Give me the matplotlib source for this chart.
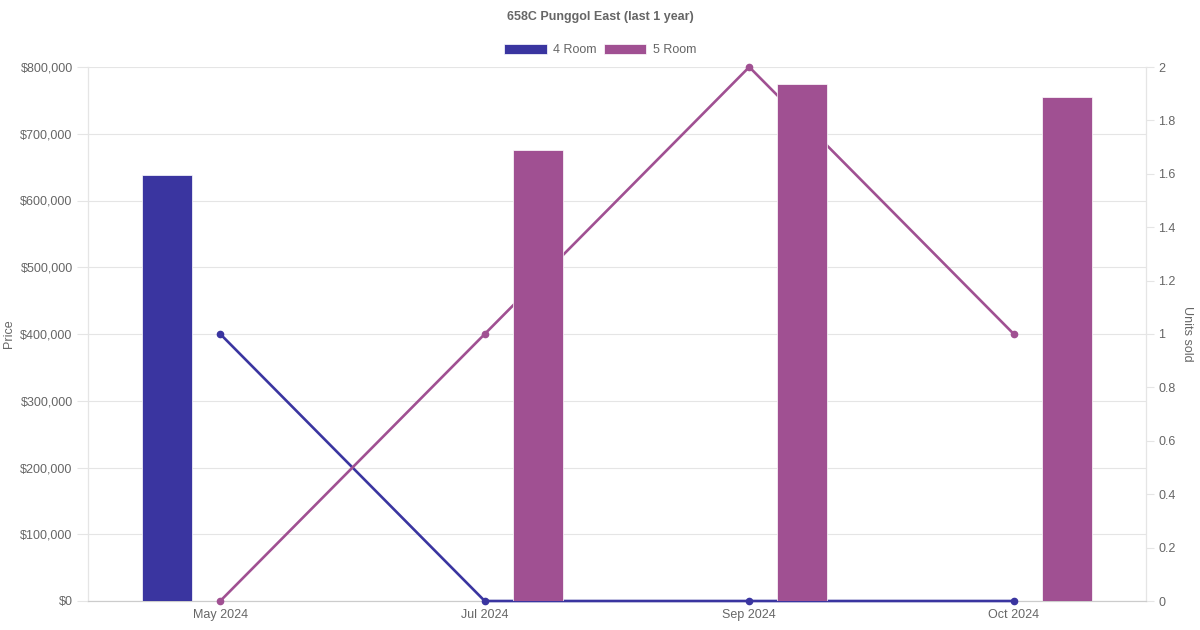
import numpy as np
import matplotlib
matplotlib.use("Agg")
import matplotlib.pyplot as plt
from matplotlib import transforms
from matplotlib.patches import Patch
from matplotlib.ticker import FuncFormatter, MultipleLocator

plt.rcParams['font.family'] = ['Liberation Sans', 'DejaVu Sans']

months = ['May 2024', 'Jul 2024', 'Sep 2024', 'Oct 2024']
price_4room = [638000, np.nan, np.nan, np.nan]
price_5room = [np.nan, 675000, 774000, 755000]
units_4room = [1, 0, 0, 0]
units_5room = [0, 1, 2, 1]

c4 = '#3a35a0'
c5 = '#a05092'
txt = '#666666'
grid_c = '#e5e5e5'

fig = plt.figure(figsize=(12, 6.3), dpi=100)
ax = fig.add_axes([88 / 1200, 29 / 630, (1146 - 88) / 1200, (601 - 67) / 630])
ax2 = ax.twinx()

x = np.arange(len(months))
p4 = np.array(price_4room, dtype=float)
p5 = np.array(price_5room, dtype=float)
m4 = ~np.isnan(p4)
m5 = ~np.isnan(p5)

ax.bar(x[m4] - 0.2, p4[m4], width=0.19, color=c4, edgecolor='white', linewidth=0.5, zorder=3)
ax.bar(x[m5] + 0.2, p5[m5], width=0.19, color=c5, edgecolor='white', linewidth=0.5, zorder=3)

ax.set_xlim(-0.5, len(months) - 0.5)
ax2.set_xlim(-0.5, len(months) - 0.5)
ax.set_ylim(0, 800000)
ax2.set_ylim(0, 2)

# lines use the right-hand scale but sit in the left axes so the bars cover them
tr = transforms.blended_transform_factory(ax.transData, ax2.transData)
for vals, col in [(units_4room, c4), (units_5room, c5)]:
    ax.plot(x, vals, color=col, lw=1.9, marker='o', ms=4.5, transform=tr,
            clip_on=False, zorder=2.7)

ax.yaxis.set_major_locator(MultipleLocator(100000))
ax.yaxis.set_major_formatter(FuncFormatter(lambda v, p: '${:,.0f}'.format(v)))
ax2.yaxis.set_major_locator(MultipleLocator(0.2))
ax2.yaxis.set_major_formatter(FuncFormatter(lambda v, p: '{:g}'.format(round(v, 1))))

ax.set_xticks(x)
ax.set_xticklabels(months)
ax.grid(axis='y', color=grid_c, lw=0.8, zorder=0)
ax.set_axisbelow(True)

ax.tick_params(axis='x', length=0, pad=6, labelsize=9, labelcolor=txt)
ax.tick_params(axis='y', length=8, color=grid_c, width=0.8, pad=3, labelsize=9, labelcolor=txt)
ax2.tick_params(axis='y', length=6, color=grid_c, width=0.8, pad=3, labelsize=9, labelcolor=txt)

for a in (ax, ax2):
    a.spines['top'].set_visible(False)
    for s in ('left', 'right'):
        a.spines[s].set_color(grid_c)
        a.spines[s].set_linewidth(0.8)
    a.spines['bottom'].set_color('#cccccc')
    a.spines['bottom'].set_linewidth(0.8)
    for sp in a.spines.values():
        sp.set_zorder(1)

ax.set_ylabel('Price', color=txt, fontsize=9, labelpad=4)
ax2.set_ylabel('Units sold', color=txt, fontsize=9, rotation=-90, labelpad=12)

ax.set_zorder(ax2.get_zorder() + 1)
ax.patch.set_visible(False)

fig.text(0.5, 1 - 17 / 630, '658C Punggol East (last 1 year)', ha='center', va='center',
         fontsize=9, fontweight='bold', color=txt)

handles = [Patch(facecolor=c4, edgecolor='white', lw=0.5, label='4 Room'),
           Patch(facecolor=c5, edgecolor='white', lw=0.5, label='5 Room')]
fig.legend(handles=handles, loc='center', bbox_to_anchor=(0.5, 1 - 50 / 630), ncol=2,
           frameon=False, fontsize=9, labelcolor=txt, handlelength=3.4, handleheight=0.9,
           handletextpad=0.5, columnspacing=0.6)

fig.savefig('out.png', dpi=100, facecolor='white')
